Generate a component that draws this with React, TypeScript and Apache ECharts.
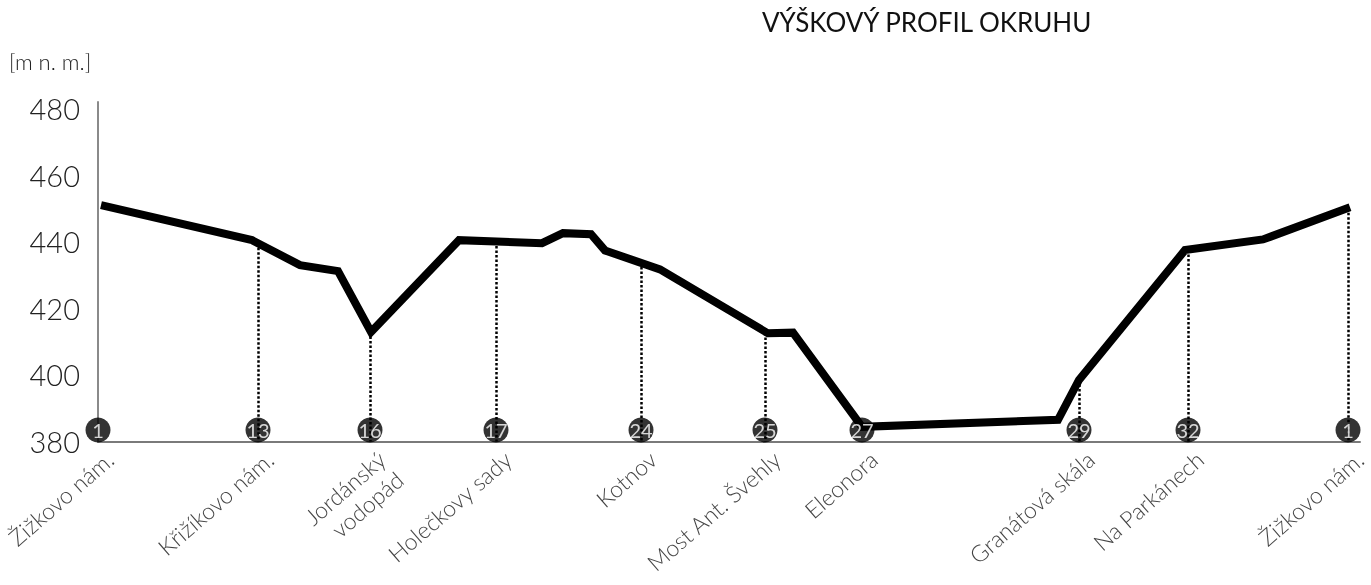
import React, { useEffect, useRef } from "react";
import * as echarts from "echarts";

// Elevation profile of the route (distance in km, elevation in m a.s.l.)
const profileKm = [0.03, 1.54, 2.02, 2.4, 2.73, 3.61, 4.44, 4.65, 4.93, 5.07, 5.62, 6.7, 6.95, 7.64, 9.6, 9.81, 10.87, 11.65, 12.52];
const profileElev = [451.0, 440.5, 433.0, 431.2, 412.9, 440.5, 439.6, 442.6, 442.3, 437.4, 431.7, 412.5, 412.7, 384.4, 386.5, 398.5, 437.5, 440.7, 450.4];

// Stations
const stationNos = ["1", "13", "16", "17", "24", "25", "27", "29", "32", "1"];
const stationNames = [
  "Žižkovo nám.",
  "Křižíkovo nám.",
  "Jordánský\nvodopád",
  "Holečkovy sady",
  "Kotnov",
  "Most Ant. Švehly",
  "Eleonora",
  "Granátová skála",
  "Na Parkánech",
  "Žižkovo nám.",
];
const stationKm = [0, 1.6, 2.72, 3.98, 5.43, 6.67, 7.64, 9.81, 10.9, 12.5];
const stationElev: (number | null)[] = [null, 439.6, 412.9, 440.1, 433.8, 412.6, null, 398.5, 437.5, 450.1];

const yTicks = [380, 400, 420, 440, 460, 480];

const FONT = "Lato";

export default function App() {
  const ref = useRef<HTMLDivElement>(null);
  useEffect(() => {
    if (!ref.current) return;
    const chart = echarts.init(ref.current, null, { renderer: "svg" });
    const baseY = yTicks[0];
    const dropLines = stationKm
      .map((k, i) => (stationElev[i] == null ? null : [{ coord: [k, stationElev[i]] }, { coord: [k, baseY] }]))
      .filter((d) => d != null);

    chart.setOption({
      animation: false,
      title: {
        text: "VÝŠKOVÝ PROFIL OKRUHU",
        left: 757,
        top: 4,
        textStyle: { fontFamily: FONT, fontWeight: "normal", fontSize: 26, color: "#111" },
      },
      graphic: [
        {
          type: "text",
          left: 9,
          top: 50,
          style: { text: "[m n. m.]", font: `300 22px ${FONT}`, fill: "#222" },
        },
      ],
      grid: { left: 98, right: 11, top: 102, bottom: 143.5 },
      xAxis: {
        type: "value",
        min: 0,
        max: 12.62,
        axisLine: { show: true, onZero: false, lineStyle: { color: "#7a7a7a", width: 2 } },
        axisTick: { show: false },
        axisLabel: { show: false },
        splitLine: { show: false },
      },
      yAxis: {
        type: "value",
        min: 380,
        max: 482,
        interval: 20,
        axisLine: { show: true, lineStyle: { color: "#8a8a8a", width: 2 } },
        axisTick: { show: false },
        splitLine: { show: false },
        axisLabel: {
          fontSize: 29,
          color: "#222",
          fontFamily: FONT,
          fontWeight: 300,
          margin: 18,
          formatter: (v: number) => (yTicks.includes(v) ? String(v) : ""),
        },
      },
      series: [
        {
          type: "line",
          data: profileKm.map((k, i) => [k, profileElev[i]]),
          symbol: "none",
          silent: true,
          z: 3,
          lineStyle: { color: "#000", width: 8, join: "miter" },
          markLine: {
            silent: true,
            symbol: "none",
            label: { show: false },
            lineStyle: { color: "#000", width: 2.5, type: [2.5, 2] },
            data: dropLines,
          },
        },
        {
          type: "scatter",
          data: stationKm.map((k) => [k, baseY]),
          symbol: "circle",
          symbolSize: 25,
          symbolOffset: [0, -11.5],
          clip: false,
          silent: true,
          z: 5,
          itemStyle: { color: "#000" },
          label: {
            show: true,
            position: "inside",
            formatter: (p: any) => stationNos[p.dataIndex],
            color: "#fff",
            fontSize: 20,
            fontFamily: FONT,
          },
        },
        {
          type: "scatter",
          data: stationKm.map((k) => [k, baseY]),
          symbolSize: 2,
          clip: false,
          silent: true,
          z: 4,
          itemStyle: { color: "rgba(0,0,0,0)" },
          label: {
            show: true,
            position: [4, 5],
            rotate: 41,
            align: "right",
            verticalAlign: "top",
            formatter: (p: any) => stationNames[p.dataIndex],
            color: "#111",
            fontSize: 23,
            lineHeight: 27,
            fontFamily: FONT,
            fontWeight: 300,
          },
        },
      ],
    });
    return () => chart.dispose();
  }, []);
  return <div ref={ref} style={{ position: "fixed", left: 0, top: 0, width: 1371, height: 585 }} />;
}
